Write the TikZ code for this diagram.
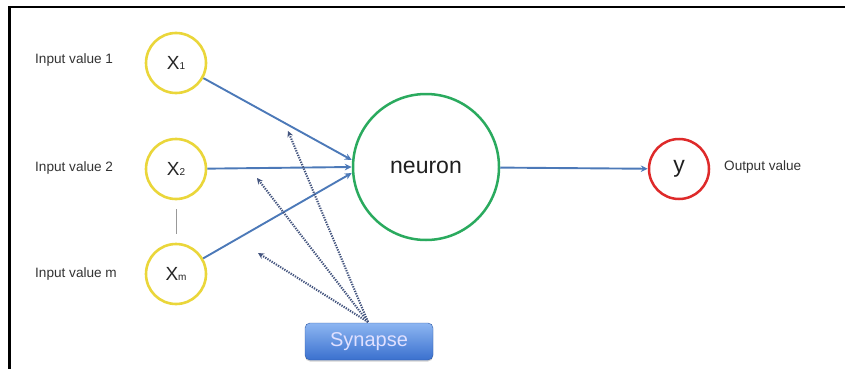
\documentclass[tikz,border=0pt]{standalone}
\usepackage{fontspec}
\setmainfont{Liberation Sans}
\usetikzlibrary{arrows.meta,shadows}

\definecolor{inyellow}{HTML}{EAD63A}
\definecolor{neurgreen}{HTML}{2AAA5E}
\definecolor{outred}{HTML}{DE2A2A}
\definecolor{linkblue}{HTML}{4C79B8}
\definecolor{dotblue}{HTML}{44557F}
\definecolor{labelgray}{HTML}{333333}
\definecolor{btntop}{HTML}{8DB6F2}
\definecolor{btnbottom}{HTML}{3A70CE}

\tikzset{
  inputnode/.style={circle, draw=inyellow, line width=2.6pt, fill=white,
    minimum size=60pt, inner sep=0pt, text=black!85,
    font=\fontsize{19}{21}\selectfont},
  neuronnode/.style={circle, draw=neurgreen, line width=2.5pt, fill=white,
    minimum size=146pt, inner sep=0pt, text=black!88,
    font=\fontsize{23}{26}\selectfont},
  outnode/.style={circle, draw=outred, line width=2.5pt, fill=white,
    minimum size=60pt, inner sep=0pt, text=black!88,
    font=\fontsize{23}{26}\selectfont},
  sidelabel/.style={anchor=west, inner sep=0pt, text=labelgray,
    font=\fontsize{13.6}{15}\selectfont},
  link/.style={draw=linkblue, line width=1.9pt,
    -{Stealth[length=7pt,width=6.5pt]}},
  weight/.style={draw=dotblue, line width=2.1pt, dash pattern=on 1.3pt off 1.2pt,
    -{Stealth[length=6pt,width=6pt]}},
  synbox/.style={rounded corners=5pt, top color=btntop, bottom color=btnbottom,
    draw=btnbottom!80!black, line width=0.4pt,
    minimum width=128pt, minimum height=37pt, inner sep=0pt,
    text=white!88!blue, font=\fontsize{20}{22}\selectfont,
    drop shadow={shadow xshift=0pt, shadow yshift=-1.5pt, opacity=0.35}},
  frameline/.style={draw=black, line width=2.4pt},
}

\newcommand{\subidx}[1]{\raisebox{-0.5pt}{\fontsize{10}{10}\selectfont #1}}

\begin{document}
\begin{tikzpicture}[x=1pt,y=-1pt]
  \useasboundingbox (0,0) rectangle (845,369);

  % frame on the left and top
  \draw[frameline] (9.5,369) -- (9.5,7) -- (845,7);

  % input, hidden and output units
  \node[inputnode] (x1) at (176,63) {X\subidx{1}};
  \node[inputnode] (x2) at (176,169) {X\subidx{2}};
  \node[inputnode] (xm) at (176,274) {X\subidx{m}};
  \node[neuronnode] (neuron) at (426,167) {neuron};
  \node[outnode] (y) at (679,169) {y};

  % labels
  \node[sidelabel] (l1) at (35,60) {Input value 1};
  \node[sidelabel] (l2) at (35,168) {Input value 2};
  \node[sidelabel] (lm) at (35,274) {Input value m};
  \node[sidelabel] (lo) at (724,167) {Output value};

  % ellipsis bar between the second and the last input
  \draw[draw=black!40, line width=1pt, shorten <=9pt, shorten >=9pt] (x2) -- (xm);

  % weighted connections
  \draw[link] (x1) -- ([yshift=7pt]neuron.west);
  \draw[link] (x2) -- ([yshift=0pt]neuron.west);
  \draw[link] (xm) -- ([yshift=-6pt]neuron.west);
  \draw[link] (neuron) -- (y);

  % synapse callout
  \node[synbox] (syn) at (369,341.5) {Synapse};
  \coordinate (src) at (368,322);
  \coordinate (w1) at (288,131);
  \coordinate (w2) at (257,178);
  \coordinate (w3) at (258,253);
  \draw[weight] (src) -- (w1);
  \draw[weight] (src) -- (w2);
  \draw[weight] (src) -- (w3);
\end{tikzpicture}
\end{document}
